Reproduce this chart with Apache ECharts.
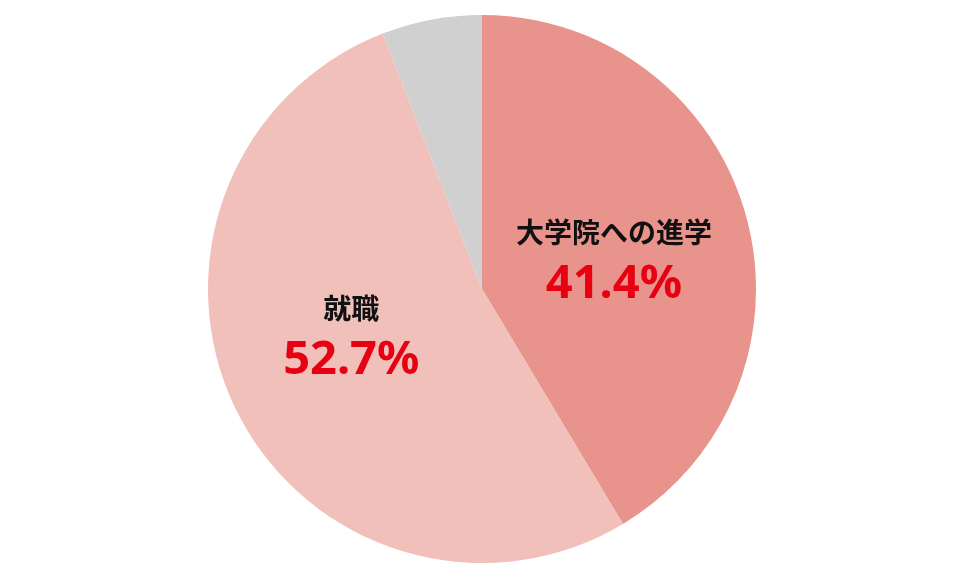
<!DOCTYPE html>
<html><head><meta charset="utf-8">
<script src="https://cdn.jsdelivr.net/npm/echarts@6/dist/echarts.min.js"></script>
<style>html,body{margin:0;padding:0;background:#fff}#c{width:964px;height:581px}</style>
</head><body><div id="c"></div>
<script>
const categories = ['大学院への進学', '就職', 'その他'];
const values = [41.4, 52.7, 5.9];
const valueLabels = ['41.4%', '52.7%', ''];
const colors = ['#E8938B', '#F2C0BA', '#D0D0D0'];
const labelOffsets = [[-3, 9], [-5, -14], [0, 0]];

const chart = echarts.init(document.getElementById('c'));
chart.setOption({
  animation: false,
  series: [{
    type: 'pie',
    center: [482, 289],
    radius: [0, 274],
    startAngle: 90,
    clockwise: true,
    itemStyle: { borderWidth: 0 },
    labelLine: { show: false },
    data: categories.map((n, i) => ({
      name: n, value: values[i],
      itemStyle: { color: colors[i] },
      label: {
        show: i < 2,
        position: 'inside',
        offset: labelOffsets[i],
        formatter: '{a|' + n + '}\n{b|' + valueLabels[i] + '}',
        rich: {
          a: { fontFamily: 'Noto Sans CJK JP', fontWeight: 'bold', fontSize: 28, color: '#111', lineHeight: 48, align: 'center' },
          b: { fontFamily: 'Noto Sans', fontWeight: 'bold', fontSize: 47, color: '#E60012', lineHeight: 56, align: 'center' }
        }
      }
    }))
  }]
});
</script></body></html>
